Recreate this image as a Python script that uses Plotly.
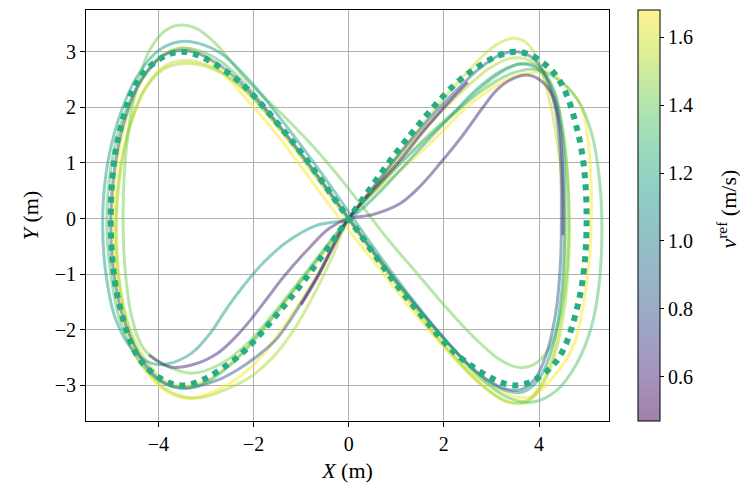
import plotly.graph_objects as go
from plotly.colors import sample_colorscale, hex_to_rgb
import plotly.colors as pc

# ---------------- data ----------------
V_MIN, V_MAX = 0.47, 1.68

ref_path = [(0, 0), (1.29, 1.50), (2.50, 2.60), (3.54, 3.00), (4.33, 2.60), (4.83, 1.50),
            (5.00, 0), (4.83, -1.50), (4.33, -2.60), (3.54, -3.00), (2.50, -2.60), (1.29, -1.50),
            (0, 0), (-1.29, 1.50), (-2.50, 2.60), (-3.54, 3.00), (-4.33, 2.60), (-4.83, 1.50),
            (-5.00, 0), (-4.83, -1.50), (-4.33, -2.60), (-3.54, -3.00), (-2.50, -2.60),
            (-1.29, -1.50), (0, 0)]

traj_A = [(-1.0, -1.55), (-0.62, -1.0), (-0.25, -0.38), (0, 0), (0.5, 0.5),
          (1.08, 1.05), (1.6, 1.6), (2.13, 2.12), (2.5, 2.45)]

traj_B = [(-4.2, -2.45), (-3.75, -2.67), (-3.25, -2.62), (-2.77, -2.43), (-2.4, -2.15),
          (-2.07, -1.83), (-1.7, -1.42), (-1.37, -1.05), (-0.81, -0.51), (-0.4, -0.17), (0, 0),
          (0.5, 0.07), (1.08, 0.27), (1.5, 0.58), (1.92, 0.99), (2.4, 1.5), (2.83, 2.01),
          (3.1, 2.3), (3.39, 2.49), (3.74, 2.58), (4.02, 2.49), (4.3, 2.19), (4.44, 1.59),
          (4.5, 0.69), (4.5, -0.3)]

traj_C = [(0, 0), (0.55, 0.6), (1.1, 1.2), (1.65, 1.75), (2.2, 2.25), (2.75, 2.7), (3.15, 2.93),
          (3.5, 3.0), (3.85, 2.9), (4.15, 2.55), (4.35, 1.95), (4.45, 1.1), (4.47, 0.2),
          (4.45, -0.8), (4.35, -1.7), (4.15, -2.45), (3.9, -2.9), (3.6, -3.08), (3.25, -3.05),
          (2.75, -2.8), (2.1, -2.25), (1.35, -1.5), (0.65, -0.75), (0.0, 0.0), (-0.65, 0.76),
          (-1.35, 1.55), (-2.05, 2.25), (-2.7, 2.75), (-3.2, 2.98), (-3.55, 3.02), (-3.95, 2.9),
          (-4.35, 2.5), (-4.7, 1.8), (-4.92, 0.9), (-5.0, 0.0), (-4.95, -0.9), (-4.75, -1.75),
          (-4.4, -2.45), (-3.95, -2.92), (-3.45, -3.05), (-2.77, -2.91), (-2.3, -2.7),
          (-1.86, -2.43), (-1.5, -2.15), (-1.23, -1.83), (-0.95, -1.45), (-0.67, -1.05),
          (-0.4, -0.6), (-0.2, -0.25), (0, 0)]

traj_D = [(0, 0), (0.5, 0.35), (1.08, 0.87), (1.6, 1.35), (2.13, 1.83), (2.7, 2.33), (3.2, 2.65),
          (3.6, 2.78), (4.0, 2.68), (4.3, 2.3), (4.48, 1.6), (4.54, 0.7), (4.54, -0.3),
          (4.48, -1.3), (4.3, -2.25), (4.0, -2.88), (3.65, -3.12), (3.2, -3.06), (2.6, -2.7),
          (1.9, -2.05), (1.2, -1.3), (0.55, -0.55), (0.0, 0.12), (-0.6, 0.85), (-1.3, 1.65),
          (-2.0, 2.4), (-2.65, 2.95), (-3.15, 3.15), (-3.56, 3.18), (-4.0, 3.02), (-4.45, 2.55),
          (-4.85, 1.75), (-5.1, 0.8), (-5.17, -0.1), (-5.1, -1.0), (-4.9, -1.8), (-4.55, -2.35),
          (-4.15, -2.6), (-3.84, -2.62), (-3.3, -2.42), (-2.9, -2.05), (-2.55, -1.6),
          (-2.2, -1.2), (-1.8, -0.8), (-1.3, -0.42), (-0.7, -0.13), (0, 0)]

traj_E = [(0, 0), (0.6, 0.55), (1.2, 1.1), (1.8, 1.6), (2.4, 2.05), (3.0, 2.5), (3.35, 2.7),
          (3.65, 2.79), (4.0, 2.72), (4.3, 2.35), (4.5, 1.6), (4.6, 0.7), (4.62, -0.2),
          (4.58, -1.0), (4.45, -1.75), (4.2, -2.35), (3.9, -2.62), (3.6, -2.68), (3.2, -2.55),
          (2.65, -2.15), (2.05, -1.6), (1.45, -1.0), (0.85, -0.4), (0.35, 0.15), (-0.2, 0.75),
          (-0.75, 1.3), (-1.31, 1.8), (-2.16, 2.5), (-2.8, 3.15), (-3.2, 3.42), (-3.54, 3.48),
          (-3.85, 3.38), (-4.2, 3.0), (-4.5, 2.2), (-4.68, 1.2), (-4.74, 0.1), (-4.7, -0.9),
          (-4.55, -1.8), (-4.3, -2.35), (-3.84, -2.64), (-3.3, -2.78), (-2.7, -2.62),
          (-2.1, -2.22), (-1.5, -1.62), (-0.8, -0.86), (0, 0)]

traj_F = [(0, 0), (0.6, 0.62), (1.2, 1.25), (1.8, 1.8), (2.4, 2.3), (2.95, 2.7), (3.4, 2.88),
          (3.8, 2.85), (4.1, 2.55), (4.35, 2.0), (4.55, 1.2), (4.63, 0.3), (4.63, -0.6),
          (4.55, -1.5), (4.38, -2.3), (4.1, -2.95), (3.74, -3.3), (3.3, -3.28), (2.75, -2.95),
          (2.1, -2.35), (1.4, -1.6), (0.7, -0.82), (0.05, -0.05), (-0.6, 0.68), (-1.3, 1.45),
          (-2.0, 2.15), (-2.6, 2.58), (-3.1, 2.76), (-3.49, 2.79), (-3.9, 2.68), (-4.3, 2.3),
          (-4.62, 1.6), (-4.82, 0.7), (-4.88, -0.2), (-4.82, -1.1), (-4.65, -1.9),
          (-4.35, -2.55), (-3.95, -3.0), (-3.5, -3.2), (-3.12, -3.22), (-2.6, -3.08),
          (-2.07, -2.85), (-1.6, -2.5), (-1.16, -2.01), (-0.75, -1.4), (-0.35, -0.7), (0, 0)]

traj_G = [(0, 0), (0.55, 0.6), (1.1, 1.2), (1.7, 1.85), (2.3, 2.45), (2.85, 2.95), (3.15, 3.15),
          (3.46, 3.24), (3.75, 3.15), (4.0, 2.8), (4.2, 2.2), (4.38, 1.4), (4.5, 0.5),
          (4.55, -0.5), (4.5, -1.4), (4.35, -2.25), (4.1, -2.9), (3.75, -3.27), (3.35, -3.3),
          (2.8, -3.0), (2.15, -2.45), (1.45, -1.7), (0.75, -0.9), (0.05, -0.1), (-0.65, 0.7),
          (-1.35, 1.5), (-2.05, 2.2), (-2.65, 2.62), (-3.1, 2.8), (-3.45, 2.84), (-3.85, 2.75),
          (-4.25, 2.38), (-4.58, 1.7), (-4.82, 0.8), (-4.9, -0.1), (-4.85, -1.0),
          (-4.65, -1.85), (-4.3, -2.5), (-3.9, -2.9), (-3.45, -3.02), (-2.95, -2.9),
          (-2.4, -2.55), (-1.85, -2.05), (-1.25, -1.4), (-0.6, -0.7), (0, 0)]

traj_H = [(0, 0), (0.7, 0.65), (1.4, 1.25), (2.1, 1.8), (2.8, 2.3), (3.4, 2.6), (3.9, 2.68),
          (4.4, 2.5), (4.8, 2.15), (5.1, 1.55), (5.27, 0.7), (5.32, -0.3), (5.26, -1.2),
          (5.1, -1.95), (4.79, -2.61), (4.37, -3.09), (3.88, -3.3), (3.35, -3.22),
          (2.75, -2.85), (2.1, -2.25), (1.4, -1.55), (0.7, -0.8), (0.05, -0.05), (-0.6, 0.72),
          (-1.3, 1.5), (-2.0, 2.25), (-2.65, 2.8), (-3.15, 3.02), (-3.55, 3.06), (-3.95, 2.9),
          (-4.35, 2.5), (-4.75, 1.8), (-5.0, 0.9), (-5.08, -0.1), (-5.0, -1.0), (-4.8, -1.85),
          (-4.45, -2.5), (-4.0, -2.9), (-3.55, -3.05), (-3.0, -2.95), (-2.45, -2.6),
          (-1.9, -2.1), (-1.3, -1.45), (-0.65, -0.72), (0, 0)]

traj_Y = [(0, 0), (0.7, 0.58), (1.5, 1.18), (2.0, 1.6), (2.41, 1.95), (2.8, 2.22), (3.18, 2.43),
          (3.5, 2.56), (3.81, 2.61), (4.23, 2.64), (4.51, 2.43), (4.86, 2.07), (5.0, 1.6),
          (5.08, 0.9), (5.1, 0.1), (5.05, -0.8), (4.92, -1.6), (4.72, -2.3), (4.3, -2.85),
          (3.81, -3.21), (3.3, -3.15), (2.7, -2.85), (2.0, -2.3), (1.3, -1.62), (0.6, -0.85),
          (-0.1, -0.1), (-0.8, 0.7), (-1.5, 1.5), (-2.2, 2.2), (-2.8, 2.75), (-3.2, 3.0),
          (-3.49, 3.07), (-3.9, 2.95), (-4.3, 2.55), (-4.65, 1.85), (-4.88, 0.95), (-4.96, 0.0),
          (-4.92, -0.9), (-4.75, -1.8), (-4.45, -2.5), (-4.0, -3.0), (-3.6, -3.2),
          (-3.28, -3.23), (-2.8, -3.1), (-2.3, -2.85), (-1.8, -2.45), (-1.25, -1.8),
          (-0.65, -1.0), (0, 0)]

trajectories = [traj_Y, traj_G, traj_F, traj_E, traj_H, traj_D, traj_C, traj_B, traj_A]
v_ref = [1.68, 1.58, 1.52, 1.42, 1.35, 1.15, 0.85, 0.62, 0.50]

x_ticks = [-4, -2, 0, 2, 4]
y_ticks = [-3, -2, -1, 0, 1, 2, 3]
cbar_ticks = [0.6, 0.8, 1.0, 1.2, 1.4, 1.6]

# ---------------- styling ----------------
FONT = "Liberation Serif"
ALPHA = 0.5
viridis = pc.sequential.Viridis


def blend_white(hexcol, a):
    r, g, b = hex_to_rgb(hexcol)
    return "rgb(%d,%d,%d)" % (round(r * a + 255 * (1 - a)), round(g * a + 255 * (1 - a)),
                              round(b * a + 255 * (1 - a)))


def to255(c):
    return round(c * 255) if c <= 1 else round(c)


cbar_scale = [[i / (len(viridis) - 1), blend_white(c, ALPHA)] for i, c in enumerate(viridis)]

fig = go.Figure()
for path, v in zip(trajectories, v_ref):
    t = (v - V_MIN) / (V_MAX - V_MIN)
    col = sample_colorscale("Viridis", [t], colortype="tuple")[0]
    rgba = "rgba(%d,%d,%d,%.2f)" % (to255(col[0]), to255(col[1]), to255(col[2]), ALPHA)
    fig.add_trace(go.Scatter(x=[p[0] for p in path], y=[p[1] for p in path], mode="lines",
                             line=dict(color=rgba, width=3, shape="spline", smoothing=1.0),
                             showlegend=False, hoverinfo="skip"))

fig.add_trace(go.Scatter(x=[p[0] for p in ref_path], y=[p[1] for p in ref_path], mode="lines",
                         line=dict(color="#27ad81", width=6, dash="6px,6px", shape="spline",
                                   smoothing=1.0),
                         showlegend=False, hoverinfo="skip"))

# colorbar carrier
fig.add_trace(go.Scatter(x=[0, 0], y=[0, 0], mode="markers",
                         marker=dict(size=0.1, opacity=0, color=[V_MIN, V_MAX],
                                     cmin=V_MIN, cmax=V_MAX, colorscale=cbar_scale,
                                     showscale=True,
                                     colorbar=dict(
                                         x=1.055, xanchor="left", xref="paper", xpad=0, ypad=0,
                                         y=0.5, yanchor="middle", len=1.0, lenmode="fraction",
                                         thickness=22, thicknessmode="pixels",
                                         outlinewidth=1, outlinecolor="black",
                                         tickvals=cbar_ticks, ticktext=["%.1f" % t for t in cbar_ticks],
                                         ticks="outside", ticklen=4, tickcolor="black",
                                         tickfont=dict(family=FONT, size=20, color="black"),
                                     )),
                         showlegend=False, hoverinfo="skip"))

axis_common = dict(showgrid=True, gridcolor="#b0b0b0", gridwidth=1, zeroline=False,
                   showline=True, linecolor="black", linewidth=1, mirror=True,
                   ticks="outside", ticklen=5, tickcolor="black", automargin=False,
                   tickfont=dict(family=FONT, size=20, color="black"))

# the page body adds an 8 px offset, so margins are reduced by that amount
fig.update_layout(
    width=748, height=492,
    margin=dict(l=78, r=147, t=2, b=79),
    plot_bgcolor="white", paper_bgcolor="white",
    xaxis=dict(range=[-5.52, 5.47], tickvals=x_ticks,
               ticktext=["\u2212%d" % abs(t) if t < 0 else str(t) for t in x_ticks],
               title=dict(text="<i>X</i> (m)", font=dict(family=FONT, size=22, color="black"), standoff=8),
               **axis_common),
    yaxis=dict(range=[-3.64, 3.75], tickvals=y_ticks,
               ticktext=["\u2212%d" % abs(t) if t < 0 else str(t) for t in y_ticks],
               title=dict(text="<i>Y</i> (m)", font=dict(family=FONT, size=22, color="black"), standoff=10),
               **axis_common),
    annotations=[dict(text="<i>v</i><sup>ref</sup> (m/s)", textangle=-90, showarrow=False,
                      xref="paper", yref="paper", x=1.226, y=0.515,
                      xanchor="center", yanchor="middle",
                      font=dict(family=FONT, size=22, color="black"))],
)

fig.write_html("out.html")
